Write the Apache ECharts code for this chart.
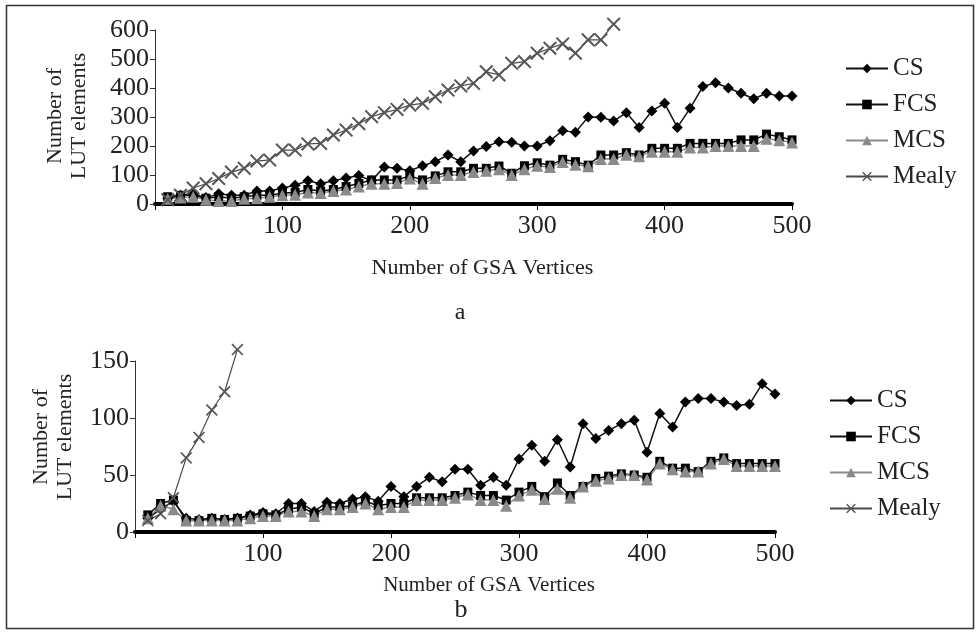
<!DOCTYPE html>
<html>
<head>
<meta charset="utf-8">
<script src="https://cdn.jsdelivr.net/npm/echarts@6/dist/echarts.min.js"></script>
<style>
  html, body { margin: 0; padding: 0; background: #fff; }
  #chart { width: 977px; height: 633px; }
</style>
</head>
<body>
<div id="chart"></div>
<script>
// number of GSA vertices (x values of both plots)
const vertices = [10, 20, 30, 40, 50, 60, 70, 80, 90, 100, 110, 120, 130, 140, 150, 160, 170, 180, 190, 200,
  210, 220, 230, 240, 250, 260, 270, 280, 290, 300, 310, 320, 330, 340, 350, 360, 370, 380, 390, 400,
  410, 420, 430, 440, 450, 460, 470, 480, 490, 500]

// plot a
const csA = [20, 30, 35, 22, 35, 30, 30, 45, 45, 55, 65, 80, 70, 80, 90, 98, 80, 128, 123, 115,
  132, 146, 169, 146, 183, 198, 215, 213, 200, 200, 218, 253, 247, 300, 299, 286, 315, 264, 321, 347,
  264, 330, 405, 418, 400, 382, 363, 382, 372, 372]
const fcsA = [25, 30, 30, 20, 25, 20, 25, 30, 30, 38, 40, 50, 45, 50, 60, 71, 83, 83, 83, 97,
  83, 97, 111, 111, 123, 123, 131, 106, 132, 142, 134, 154, 146, 134, 169, 169, 177, 169, 192, 192,
  192, 209, 209, 209, 209, 221, 221, 241, 232, 221]
const mcsA = [18, 22, 25, 15, 10, 10, 18, 20, 25, 30, 32, 40, 38, 45, 50, 60, 70, 70, 72, 88,
  70, 90, 100, 100, 110, 115, 120, 100, 120, 132, 128, 145, 135, 130, 155, 155, 170, 165, 180, 180,
  180, 195, 195, 200, 200, 200, 200, 225, 220, 212]
const mealyA = [15, 30, 55, 70, 88, 110, 123, 148, 152, 186, 186, 207, 209, 238, 255, 277, 301, 315, 326, 341,
  347, 370, 393, 407, 416, 456, 445, 485, 491, 520, 537, 552, 520, 566, 566, 620]

// plot b
const csB = [12, 20, 27, 12, 11, 12, 11, 12, 15, 17, 16, 25, 25, 18, 26, 25, 29, 31, 27, 40,
  31, 40, 48, 44, 55, 55, 41, 48, 41, 64, 76, 62, 81, 57, 95, 82, 89, 95, 98, 70,
  104, 92, 114, 117, 117, 114, 111, 112, 130, 121]
const fcsB = [15, 25, 28, 10, 10, 12, 11, 12, 14, 16, 15, 20, 22, 16, 22, 22, 23, 27, 23, 25,
  25, 30, 30, 30, 32, 35, 32, 32, 28, 35, 40, 31, 43, 32, 40, 47, 49, 51, 50, 48,
  62, 56, 56, 53, 62, 65, 60, 60, 60, 60]
const mcsB = [12, 23, 20, 10, 10, 10, 10, 10, 12, 14, 14, 18, 18, 14, 20, 20, 22, 25, 20, 22,
  22, 28, 28, 28, 30, 33, 28, 28, 23, 32, 37, 29, 38, 30, 40, 45, 47, 50, 50, 46,
  60, 55, 53, 53, 60, 64, 58, 58, 58, 58]
const mealyB = [10, 16, 30, 65, 83, 107, 123, 160]

const seriesNames = ['CS', 'FCS', 'MCS', 'Mealy']

const serif = 'Liberation Serif'
const crossPath = 'path://M0,1L1,0L5,4L9,0L10,1L6,5L10,9L9,10L5,6L1,10L0,9L4,5Z'

const pairs = vals => vals.map((v, i) => [vertices[i], v])

function makeSeries(idx, cs, fcs, mcs, mealy, crossSize) {
  return [
    { name: 'CS', type: 'line', xAxisIndex: idx, yAxisIndex: idx, data: pairs(cs),
      symbol: 'diamond', symbolSize: 11, itemStyle: { color: '#000' },
      lineStyle: { color: '#111', width: 1.5 } },
    { name: 'FCS', type: 'line', xAxisIndex: idx, yAxisIndex: idx, data: pairs(fcs),
      symbol: 'rect', symbolSize: 9, itemStyle: { color: '#000' },
      lineStyle: { color: '#111', width: 1.5 } },
    { name: 'MCS', type: 'line', xAxisIndex: idx, yAxisIndex: idx, data: pairs(mcs),
      symbol: 'triangle', symbolSize: 12, itemStyle: { color: '#8a8a8a' },
      lineStyle: { color: '#8a8a8a', width: 1.5 } },
    { name: 'Mealy', type: 'line', xAxisIndex: idx, yAxisIndex: idx, data: pairs(mealy),
      symbol: crossPath, symbolSize: crossSize, clip: false, itemStyle: { color: '#555' },
      lineStyle: { color: '#4a4a4a', width: 1.2 } }
  ]
}

function xAxis(idx, gap, pad, nameSize) {
  return {
    gridIndex: idx, type: 'value', min: 0, max: 500, interval: 100,
    name: 'Number of GSA Vertices', nameLocation: 'middle', nameGap: gap,
    nameTextStyle: { fontFamily: serif, fontSize: nameSize, color: '#222', padding: [0, 0, 0, pad] },
    axisLine: { lineStyle: { color: '#000', width: 4 } },
    axisTick: { length: 6, lineStyle: { color: '#000', width: 1 } },
    axisLabel: { fontFamily: serif, fontSize: 26, color: '#222', margin: 9,
      formatter: v => (v === 0 ? '' : v) },
    splitLine: { show: false }
  }
}

function yAxis(idx, max, interval) {
  return {
    gridIndex: idx, type: 'value', min: 0, max: max, interval: interval,
    axisLine: { show: true, lineStyle: { color: '#333', width: 1 } },
    axisTick: { show: true, length: 5, lineStyle: { color: '#333' } },
    axisLabel: { fontFamily: serif, fontSize: 26, color: '#222', margin: 6 },
    splitLine: { show: false }
  }
}

function legend(left, top) {
  return {
    data: seriesNames, orient: 'vertical', left: left, top: top,
    itemWidth: 42, itemHeight: 12, itemGap: 11,
    textStyle: { fontFamily: serif, fontSize: 25, color: '#222', lineHeight: 23 }
  }
}

const chart = echarts.init(document.getElementById('chart'))
chart.setOption({
  animation: false,
  backgroundColor: '#fff',
  grid: [
    { left: 155, right: 185, top: 30, height: 174 },
    { left: 135, right: 202, top: 361, height: 171 }
  ],
  xAxis: [xAxis(0, 53, 18, 22), xAxis(1, 43, 68, 21)],
  yAxis: [yAxis(0, 600, 100), yAxis(1, 150, 50)],
  legend: [legend(840, 51), legend(824, 383)],
  graphic: [
    { type: 'rect', shape: { x: 6.5, y: 5.5, width: 967, height: 623 },
      style: { fill: 'none', stroke: '#333', lineWidth: 1.5 }, silent: true },
    { type: 'text', x: 460, y: 313,
      style: { text: 'a', font: '24px "Liberation Serif"', fill: '#222', align: 'center', verticalAlign: 'middle' } },
    { type: 'text', x: 461, y: 610,
      style: { text: 'b', font: '26px "Liberation Serif"', fill: '#222', align: 'center', verticalAlign: 'middle' } },
    { type: 'text', x: 67, y: 116, rotation: Math.PI / 2,
      style: { text: 'Number of\nLUT elements', font: '22px "Liberation Serif"', lineHeight: 24,
        fill: '#222', align: 'center', verticalAlign: 'middle' } },
    { type: 'text', x: 53, y: 437, rotation: Math.PI / 2,
      style: { text: 'Number of\nLUT elements', font: '22px "Liberation Serif"', lineHeight: 24,
        fill: '#222', align: 'center', verticalAlign: 'middle' } }
  ],
  series: [
    ...makeSeries(0, csA, fcsA, mcsA, mealyA, 14),
    ...makeSeries(1, csB, fcsB, mcsB, mealyB, 12)
  ]
})
</script>
</body>
</html>
